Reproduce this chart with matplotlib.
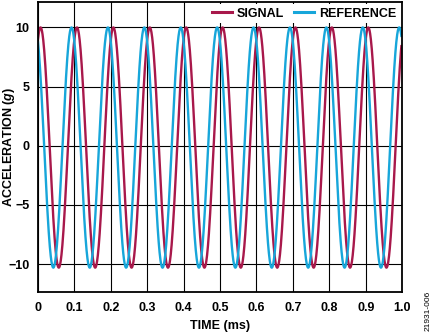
import numpy as np
import matplotlib.pyplot as plt

# values
x_ticks = [0, 0.1, 0.2, 0.3, 0.4, 0.5, 0.6, 0.7, 0.8, 0.9, 1.0]
x_tick_labels = ["0", "0.1", "0.2", "0.3", "0.4", "0.5", "0.6", "0.7", "0.8", "0.9", "1.0"]
y_ticks = [-10, -5, 0, 5, 10]
y_tick_labels = ["\u221210", "\u22125", "0", "5", "10"]

period_ms = 0.1           # one cycle every 0.1 ms (10 kHz)
amplitude_g = 10.15
offset_g = -0.15
signal_peak_ms = 0.007    # first peak of SIGNAL
reference_peak_ms = 0.092 # first peak of REFERENCE
t_end_ms = 0.998

t = np.linspace(0, t_end_ms, 2000)
signal = offset_g + amplitude_g * np.cos(2 * np.pi * (t - signal_peak_ms) / period_ms)
reference = offset_g + amplitude_g * np.cos(2 * np.pi * (t - reference_peak_ms) / period_ms)

plt.rcParams['font.family'] = ['Liberation Sans', 'DejaVu Sans']
plt.rcParams['mathtext.fontset'] = 'custom'
plt.rcParams['mathtext.it'] = 'Liberation Sans:italic:bold'

fig = plt.figure(figsize=(4.35, 3.34), dpi=100)
ax = fig.add_axes([0.0874, 0.126, 0.837, 0.868])

ax.plot(t, signal, color='#A8184B', lw=1.7, label='SIGNAL')
ax.plot(t, reference, color='#17A6DA', lw=1.7, label='REFERENCE')

ax.set_xlim(0, 1.0)
ax.set_ylim(-12.35, 12.15)
ax.set_xticks(x_ticks)
ax.set_xticklabels(x_tick_labels)
ax.set_yticks(y_ticks)
ax.set_yticklabels(y_tick_labels)
ax.tick_params(length=0, labelsize=9)
ax.tick_params(axis='x', pad=7)
ax.tick_params(axis='y', pad=6)
for lab in ax.get_xticklabels() + ax.get_yticklabels():
    lab.set_fontweight('bold')

ax.grid(True, color='black', lw=0.8)
ax.set_axisbelow(True)
for s in ax.spines.values():
    s.set_linewidth(1.3)

ax.set_xlabel('TIME (ms)', fontsize=9, fontweight='bold')
ax.set_ylabel('ACCELERATION ($g$)', fontsize=9, fontweight='bold')
ax.xaxis.set_label_coords(0.5, -0.098)
ax.yaxis.set_label_coords(-0.058, 0.5)

leg = ax.legend(loc='upper right', ncol=2, frameon=True,
                prop={'weight': 'bold', 'size': 9}, handlelength=1.6,
                handletextpad=0.4, columnspacing=0.8, borderpad=0.3,
                borderaxespad=0.15, fancybox=False)
leg.get_frame().set_facecolor('white')
leg.get_frame().set_edgecolor('none')
leg.get_frame().set_alpha(1)
for h in leg.get_lines():
    h.set_linewidth(2.2)

fig.text(0.984, 0.069, '21931-006', rotation=90, fontsize=6, ha='center', va='center')

fig.savefig('out.png', dpi=100)
